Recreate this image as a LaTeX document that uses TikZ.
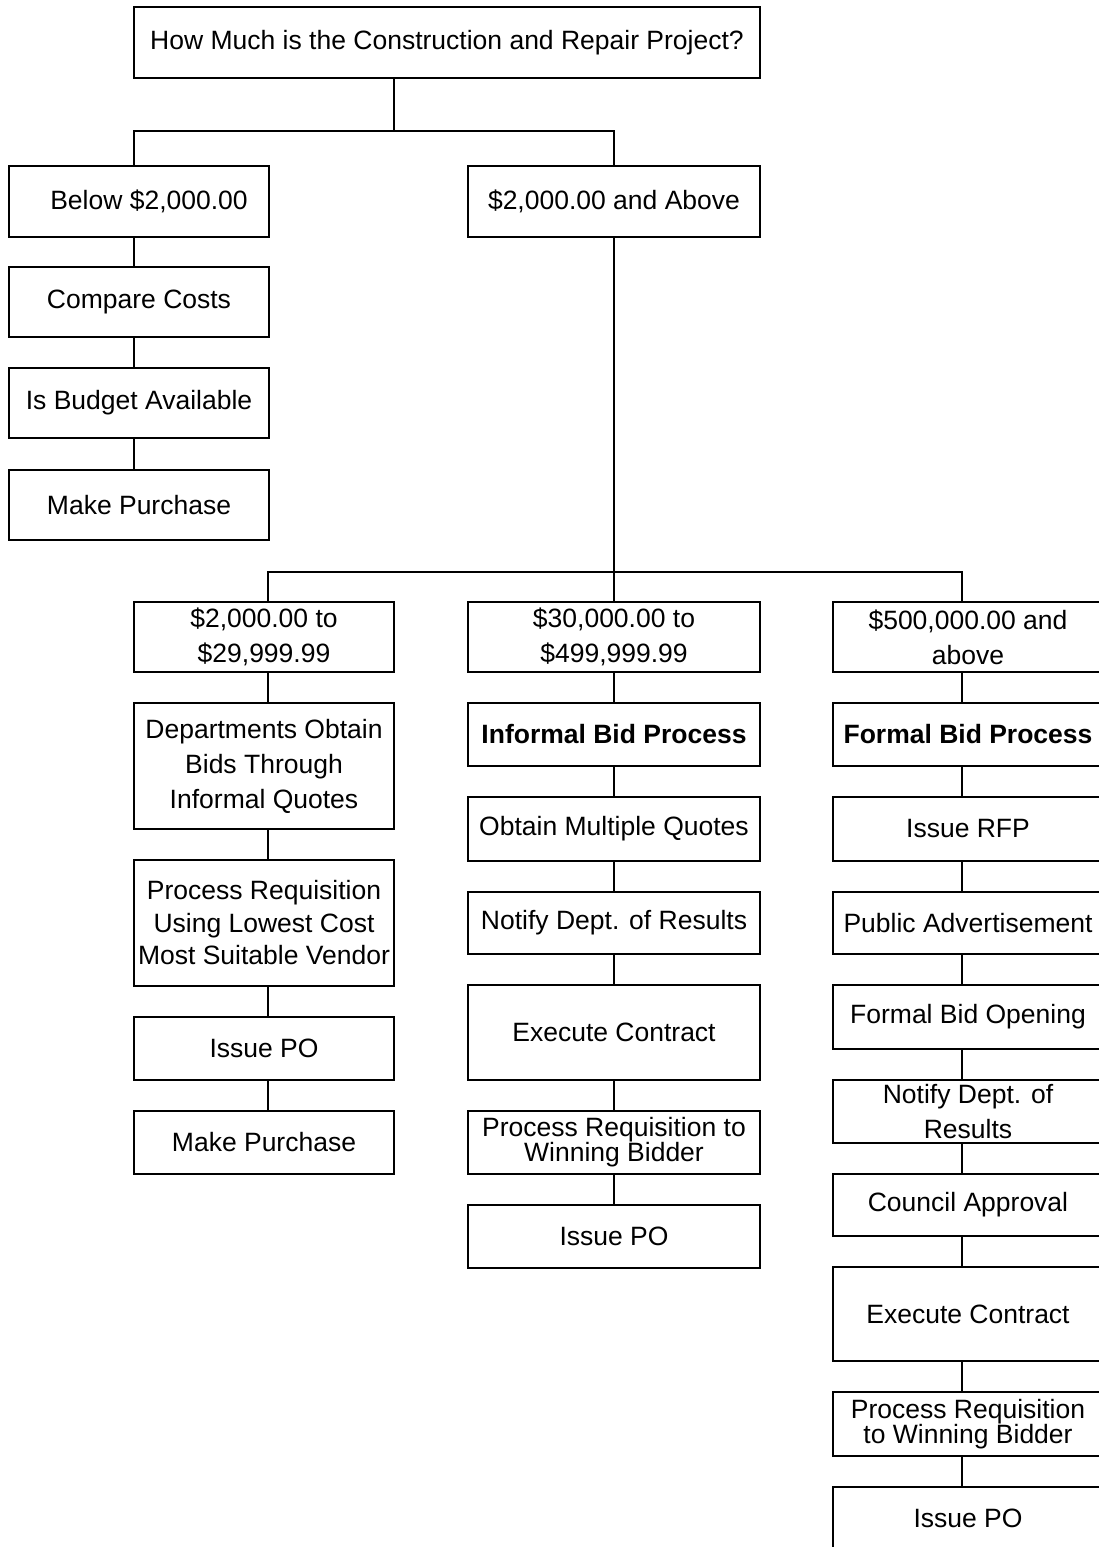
\documentclass[tikz,border=0pt]{standalone}
\usepackage{fontspec}
\setmainfont{Liberation Sans}

\begin{document}
\begin{tikzpicture}
[
x=1pt, y=-1pt
, every node/.style={font=\fontsize{26.5}{35}\selectfont}
, box/.style={draw, line width=2.5pt, inner sep=0pt, align=center, minimum height=63pt}
, colL/.style={box, minimum width=260pt}
, colA/.style={box, minimum width=260pt}
, colB/.style={box, minimum width=292pt}
, colC/.style={box, minimum width=270pt}
, tight/.style={font=\fontsize{26.5}{25}\selectfont}
, link/.style={line width=2pt}
]

\useasboundingbox (0,0) rectangle (1099,1547);
\clip (0,0) rectangle (1099,1547);

% question
\node[box, minimum width=626pt, minimum height=71pt] (q) at (447,42.5) {How Much is the Construction and Repair Project?};

% first split
\node[colL, minimum height=71pt] (low) at (139,201.5) {\hspace*{20pt}Below \$2,000.00};
\node[colB, minimum height=71pt] (high) at (614,201.5) {\$2,000.00 and Above};

% below 2000
\node[colL, minimum height=70pt] (cmp) at (139,302) {Compare Costs};
\node[colL, minimum height=70pt] (budget) at (139,403) {Is Budget Available};
\node[colL, minimum height=70pt] (buyL) at (139,505) {Make Purchase};

% second split
\node[colA, minimum height=70pt] (rA) at (264,637) {\$2,000.00 to\\\$29,999.99};
\node[colB, minimum height=70pt] (rB) at (614,637) {\$30,000.00 to\\\$499,999.99};
\node[colC, minimum height=70pt] (rC) at (968,637) {\$500,000.00 and\\above};

% informal quotes
\node[colA, minimum height=126pt] (deptQ) at (264,766) {Departments Obtain\\Bids Through\\Informal Quotes};
\node[colA, minimum height=126pt, font=\fontsize{26.5}{32.5}\selectfont] (reqA) at (264,923) {Process Requisition\\Using Lowest Cost\\Most Suitable Vendor};
\node[colA] (poA) at (264,1048.5) {Issue PO};
\node[colA] (buyA) at (264,1142.5) {Make Purchase};

% informal bid
\node[colB] (infB) at (614,734.5) {\textbf{Informal Bid Process}};
\node[colB, minimum height=64pt] (quoB) at (614,829) {Obtain Multiple Quotes};
\node[colB, minimum height=62pt] (notB) at (614,923) {Notify Dept. of Results};
\node[colB, minimum height=95pt] (exeB) at (614,1032.5) {Execute Contract};
\node[colB, tight] (reqB) at (614,1142.5) {Process Requisition to\\Winning Bidder};
\node[colB] (poB) at (614,1236.5) {Issue PO};

% formal bid
\node[colC] (forC) at (968,734.5) {\textbf{Formal Bid Process}};
\node[colC, minimum height=64pt] (rfpC) at (968,829) {Issue RFP};
\node[colC, minimum height=62pt] (advC) at (968,923) {Public Advertisement};
\node[colC, minimum height=64pt] (opnC) at (968,1017) {Formal Bid Opening};
\node[colC] (notC) at (968,1111.5) {Notify Dept. of\\Results};
\node[colC, minimum height=62pt] (cncC) at (968,1205) {Council Approval};
\node[colC, minimum height=94pt] (exeC) at (968,1314) {Execute Contract};
\node[colC, minimum height=64pt, tight] (reqC) at (968,1424) {Process Requisition\\to Winning Bidder};
\node[colC] (poC) at (968,1518.5) {Issue PO};

% splits
\coordinate (split1) at (394,131);
\draw[link] (q.south -| split1) -- (split1);
\draw[link] ([xshift=-5pt]low.north) |- (split1);
\draw[link] (high.north) |- (split1);

\coordinate (split2) at (614,572);
\draw[link] (high.south) -- (split2);
\draw[link] ([xshift=4pt]rA.north) |- (split2);
\draw[link] (rB.north) -- (split2);
\draw[link] ([xshift=-6pt]rC.north) |- (split2);

% chains
\foreach \a/\b/\d in {low/cmp/-5, cmp/budget/-5, budget/buyL/-5,
  rA/deptQ/4, deptQ/reqA/4, reqA/poA/4, poA/buyA/4,
  rB/infB/0, infB/quoB/0, quoB/notB/0, notB/exeB/0, exeB/reqB/0, reqB/poB/0,
  rC/forC/-6, forC/rfpC/-6, rfpC/advC/-6, advC/opnC/-6, opnC/notC/-6, notC/cncC/-6, cncC/exeC/-6, exeC/reqC/-6, reqC/poC/-6}
  \draw[link] ([xshift=\d pt]\a.south) -- ([xshift=\d pt]\b.north);

\end{tikzpicture}
\end{document}
